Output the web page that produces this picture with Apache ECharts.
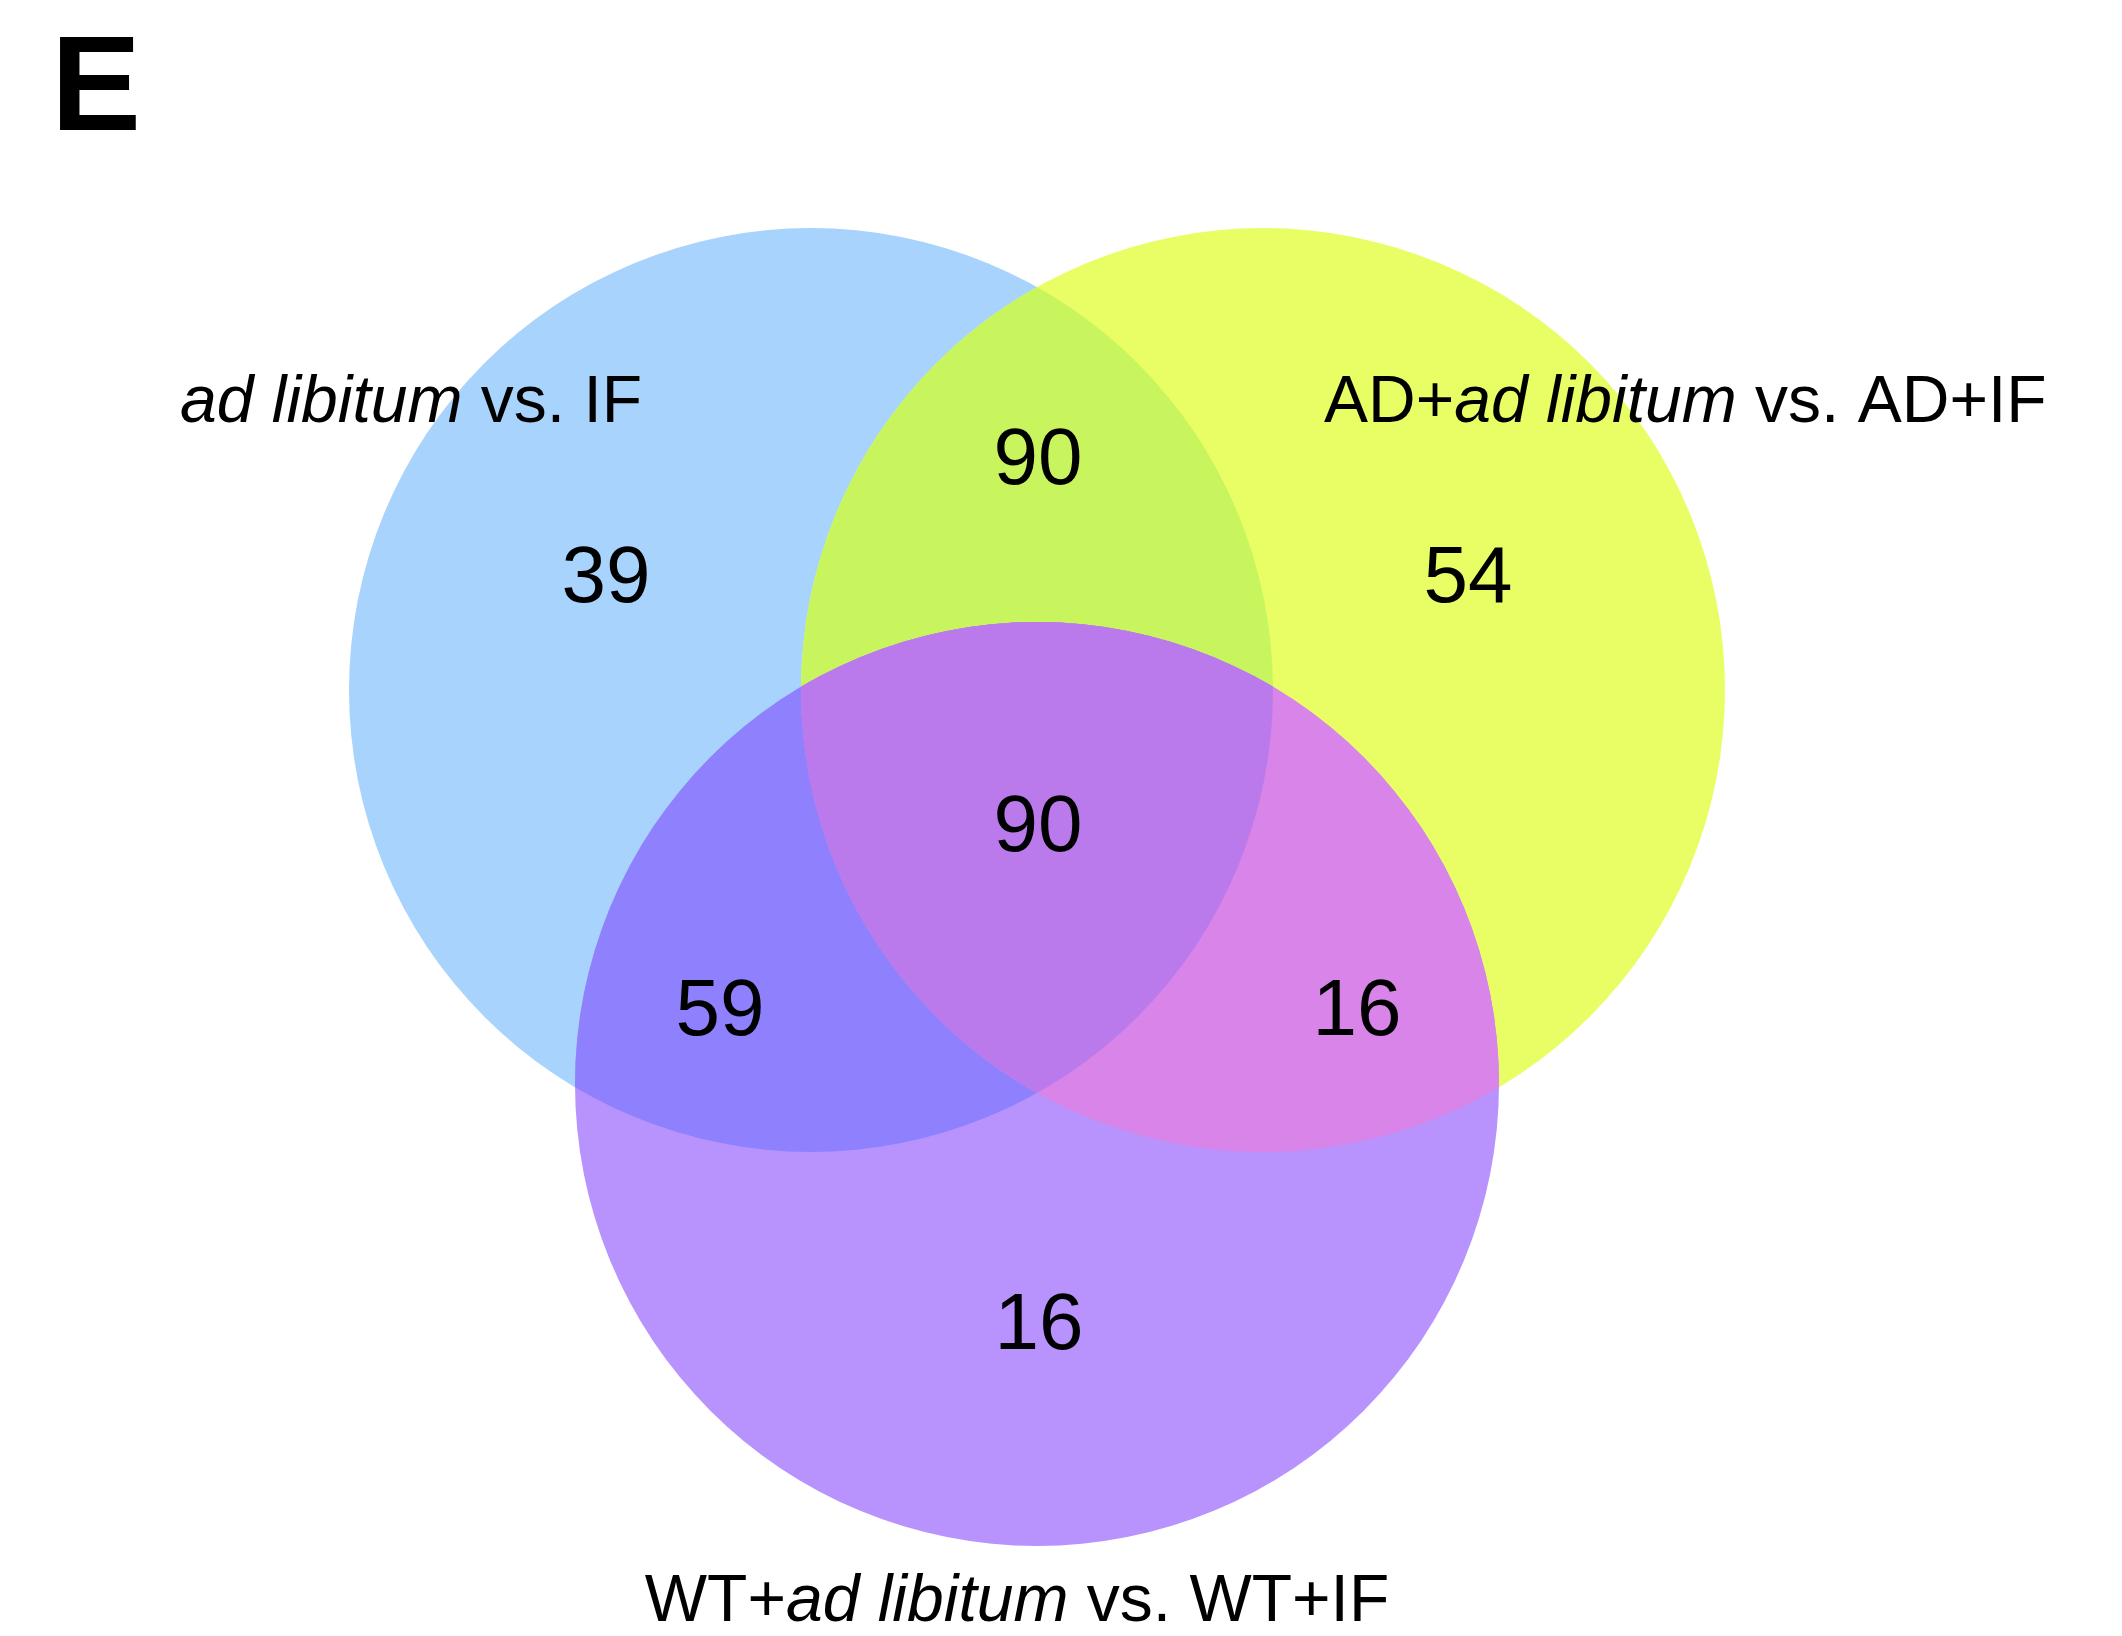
<!DOCTYPE html>
<html>
<head>
<meta charset="utf-8">
<title>Venn diagram</title>
<script src="https://cdn.jsdelivr.net/npm/echarts@6/dist/echarts.min.js"></script>
<style>
  html, body { margin: 0; padding: 0; background: #ffffff; }
  #chart { width: 2122px; height: 1636px; }
</style>
</head>
<body>
<div id="chart"></div>
<script>
// Sets compared in the diagram
const setNames = ['ad libitum vs. IF', 'AD+ad libitum vs. AD+IF', 'WT+ad libitum vs. WT+IF'];

// Region keys: A = set 1, B = set 2, C = set 3
const regionKeys = ['A', 'B', 'C', 'AB', 'AC', 'BC', 'ABC'];
// Number of genes in each region
const regionCounts = [39, 54, 16, 90, 59, 16, 90];

// Diagram geometry, in plot units (x right, y down)
const circleCenters = [[811, 690], [1263, 690], [1037, 1084]];
const circleRadius = 462;
// Where each region's count is written
const labelAnchors = [[606, 575], [1468, 575], [1039, 1322], [1038, 457], [720, 1008], [1357, 1008], [1038, 824]];

// Fill of each region
const regionColors = {
  A: '#a7d3fd',
  B: '#e9fe65',
  C: '#b893fe',
  AB: '#c8f55e',
  AC: '#8f80fe',
  BC: '#d884e8',
  ABC: '#bb7aeb'
};

const FONT = '"Liberation Sans", Arial, Helvetica, sans-serif';

const chart = echarts.init(document.getElementById('chart'), null, { renderer: 'canvas' });

function circleShape(i, api) {
  const c = api.coord(circleCenters[i]);
  const r = api.size([circleRadius, 0])[0];
  return { cx: c[0], cy: c[1], r: r };
}

function renderCircles(params, api) {
  const A = circleShape(0, api);
  const B = circleShape(1, api);
  const C = circleShape(2, api);
  const fill = function (k) { return { fill: regionColors[k] }; };
  return {
    type: 'group',
    silent: true,
    children: [
      { type: 'circle', shape: A, style: fill('A') },
      { type: 'circle', shape: B, style: fill('B') },
      { type: 'circle', shape: B, style: fill('AB'), clipPath: { type: 'circle', shape: A } },
      { type: 'circle', shape: C, style: fill('C') },
      { type: 'circle', shape: C, style: fill('AC'), clipPath: { type: 'circle', shape: A } },
      { type: 'circle', shape: C, style: fill('BC'), clipPath: { type: 'circle', shape: B } },
      {
        type: 'group',
        clipPath: { type: 'circle', shape: A },
        children: [
          { type: 'circle', shape: C, style: fill('ABC'), clipPath: { type: 'circle', shape: B } }
        ]
      }
    ]
  };
}

function renderCount(params, api) {
  const p = api.coord([api.value(0), api.value(1)]);
  return {
    type: 'text',
    silent: true,
    x: p[0],
    y: p[1] + 5,
    style: {
      text: String(api.value(2)),
      fontSize: 80,
      fontFamily: FONT,
      fill: '#000000',
      align: 'center',
      verticalAlign: 'middle'
    }
  };
}

const countData = regionCounts.map(function (v, i) {
  return [labelAnchors[i][0], labelAnchors[i][1], v];
});

function setLabel(name) {
  // italicise the phrase "ad libitum"
  return name.replace('ad libitum', '{i|ad libitum}');
}

const labelStyle = { fontSize: 66, fontFamily: FONT, fill: '#000000' };
const richItalic = { i: { fontSize: 66, fontFamily: FONT, fontStyle: 'italic', fill: '#000000' } };

chart.setOption({
  backgroundColor: '#ffffff',
  animation: false,
  title: {
    text: 'E',
    left: 46,
    top: 20,
    textStyle: { fontSize: 135, fontWeight: 'bold', fontFamily: FONT, color: '#000000' }
  },
  grid: { left: 0, right: 0, top: 0, bottom: 0 },
  xAxis: { type: 'value', min: 0, max: 2122, show: false },
  yAxis: { type: 'value', min: 0, max: 1636, inverse: true, show: false },
  graphic: [
    {
      type: 'text', x: 180, y: 404, silent: true, z: 100,
      style: Object.assign({ text: setLabel(setNames[0]), rich: richItalic, align: 'left', verticalAlign: 'middle' }, labelStyle)
    },
    {
      type: 'text', x: 1324, y: 404, silent: true, z: 100,
      style: Object.assign({ text: setLabel(setNames[1]), rich: richItalic, align: 'left', verticalAlign: 'middle' }, labelStyle)
    },
    {
      type: 'text', x: 1017, y: 1603, silent: true, z: 100,
      style: Object.assign({ text: setLabel(setNames[2]), rich: richItalic, align: 'center', verticalAlign: 'middle' }, labelStyle)
    }
  ],
  series: [
    {
      type: 'custom',
      name: 'sets',
      silent: true,
      data: [[0]],
      renderItem: renderCircles,
      z: 1
    },
    {
      type: 'custom',
      name: 'counts',
      silent: true,
      data: countData,
      renderItem: renderCount,
      z: 2
    }
  ]
});
</script>
</body>
</html>
